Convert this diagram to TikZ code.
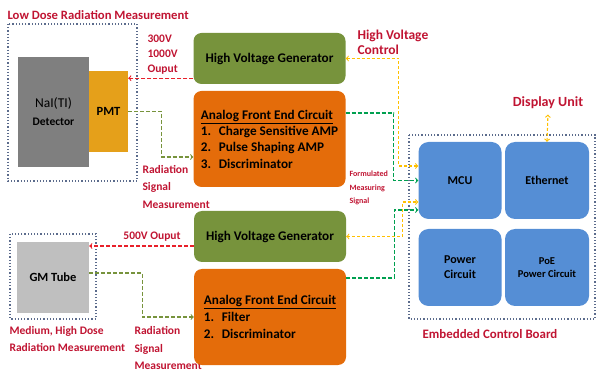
\documentclass[tikz,border=0pt]{standalone}
\usepackage{fontspec}
\setmainfont{Carlito}
\definecolor{redtxt}{RGB}{192,20,50}
\definecolor{hvgreen}{HTML}{77933C}
\definecolor{afeorange}{HTML}{E46C0A}
\definecolor{mcublue}{HTML}{558ED5}
\definecolor{naigrey}{HTML}{7F7F7F}
\definecolor{pmtgold}{HTML}{E5A01A}
\definecolor{gmgrey}{HTML}{BFBFBF}
\definecolor{framecol}{HTML}{5B6B8C}
\definecolor{hvred}{HTML}{E8202A}
\definecolor{sigolive}{HTML}{77933C}
\definecolor{outgreen}{HTML}{00A050}
\definecolor{ctlyellow}{HTML}{FFC000}
\begin{document}
\begin{tikzpicture}[x=1pt, y=-1pt,
    block/.style={rounded corners=8pt, inner sep=0pt, minimum width=152pt, font=\bfseries\fontsize{13.2}{16.3}\selectfont},
    hvgen/.style={block, fill=hvgreen, minimum height=51pt},
    afe/.style={block, fill=afeorange, minimum height=96pt, align=left},
    boardbox/.style={rounded corners=10pt, fill=mcublue, inner sep=0pt, minimum width=83pt, minimum height=77pt, align=center, font=\bfseries\fontsize{12}{15}\selectfont},
    dotframe/.style={draw=framecol, dotted, line width=1.2pt},
    redlabel/.style={text=redtxt, font=\bfseries\fontsize{11.5}{17.5}\selectfont, align=left},
    hvline/.style={draw=hvred, dash pattern=on 4pt off 2pt, line width=1.1pt},
    sigline/.style={draw=sigolive, dash pattern=on 4pt off 2pt, line width=1.1pt},
    outline/.style={draw=outgreen, dash pattern=on 4pt off 2pt, line width=1.1pt},
    ctlline/.style={draw=ctlyellow, dash pattern=on 3pt off 2pt, line width=1.1pt}]
    \useasboundingbox (0,0) rectangle (597,371);

    % Low dose part
    \node[redlabel, anchor=west] (lowtitle) at (4,15) {\fontsize{12.7}{15}\selectfont Low Dose Radiation Measurement};
    \draw[dotframe] (8,24) rectangle (137,181);
    \node[fill=naigrey, minimum width=71pt, minimum height=110pt, align=center, font=\fontsize{13.5}{18}\selectfont] (nai) at (53.5,112)
        {NaI(TI)\\{\bfseries\fontsize{11.5}{12}\selectfont Detector}};
    \node[fill=pmtgold, minimum width=39pt, minimum height=81pt, font=\bfseries\fontsize{12.5}{14}\selectfont] (pmt) at (108.5,111.5) {PMT};
    \node[redlabel, anchor=west, font=\bfseries\fontsize{11.5}{15}\selectfont] (hvoutA) at (144,55) {300V ~\\1000V\\Ouput};
    \node[redlabel, anchor=west] (radA) at (139,187) {Radiation\\Signal\\Measurement};

    \node[hvgen] (hvgA) at (269.5,58.5) {High Voltage Generator};
    \node[afe] (afeA) at (269.5,139) {\underline{Analog Front End Circuit}\\
        \makebox[18pt][l]{1.}Charge Sensitive AMP\\
        \makebox[18pt][l]{2.}Pulse Shaping AMP\\
        \makebox[18pt][l]{3.}Discriminator};

    % Medium, high dose part
    \draw[dotframe] (10,234) rectangle (96,319);
    \node[fill=gmgrey, minimum width=72pt, minimum height=71pt, font=\bfseries\fontsize{12.5}{14}\selectfont] (gm) at (53,277.5) {GM Tube};
    \node[redlabel, anchor=west] (medtitle) at (6,339) {Medium, High Dose\\Radiation Measurement};
    \node[redlabel] (hvoutB) at (152,237) {500V Ouput};
    \node[redlabel, anchor=west] (radB) at (131,348) {Radiation\\Signal\\Measurement};

    \node[hvgen] (hvgB) at (270,236.5) {High Voltage Generator};
    \node[afe, font=\bfseries\fontsize{13.2}{17}\selectfont] (afeB) at (270,317) {\underline{Analog Front End Circuit}\\
        \makebox[18pt][l]{1.}Filter\\
        \makebox[18pt][l]{2.}Discriminator};

    % Embedded control board
    \node[redlabel, anchor=west, font=\bfseries\fontsize{13.5}{15}\selectfont] (hvctl) at (354,42) {High Voltage\\Control};
    \node[redlabel, anchor=west, font=\bfseries\fontsize{8}{13.5}\selectfont] (formsig) at (346,188) {Formulated\\Measuring\\Signal};
    \draw[dotframe] (409,135) rectangle (595,319);
    \node[boardbox] (mcu) at (460,180.5) {MCU};
    \node[boardbox, minimum width=84pt] (eth) at (547,180.5) {Ethernet};
    \node[boardbox] (pwr) at (460,267.5) {Power\\Circuit};
    \node[boardbox, minimum width=84pt, font=\bfseries\fontsize{10.5}{13}\selectfont] (poe) at (547,267.5) {PoE\\Power Circuit};
    \node[redlabel, font=\bfseries\fontsize{14}{15}\selectfont] (disp) at (548,103) {Display Unit};
    \node[redlabel, font=\bfseries\fontsize{12.9}{15}\selectfont] (ecb) at (490,334) {Embedded Control Board};

    % Connectors
    \coordinate (hvA) at ([yshift=6pt]hvgA.south west);
    \draw[hvline, ->] (hvA) -- (hvA -| pmt.east);
    \coordinate (sigA) at ([yshift=-18pt]afeA.west);
    \draw[sigline, ->] (pmt.east) -- ++(33,0) |- (sigA);
    \coordinate (ctlA) at ([yshift=14.5pt]mcu.west);
    \draw[ctlline, <->] (hvgA.east) -- ++(53,0) |- (ctlA);
    \coordinate (outA) at ([yshift=26pt]afeA.east);
    \draw[outline, ->] (outA) -- ++(48,0) |- (mcu.west);

    \coordinate (hvB) at ([yshift=-9.5pt]hvgB.west);
    \draw[hvline, ->] (hvB) -- (hvB -| gm.east);
    \coordinate (sigB) at ([yshift=4.5pt]gm.east);
    \draw[sigline, ->] (sigB) -- ++(53,0) |- (afeB.west);
    \coordinate (ctlB) at ([yshift=-21.5pt]mcu.west);
    \draw[ctlline, <->] (hvgB.east) -- ++(56,0) |- (ctlB);
    \coordinate (outB) at ([yshift=39pt]afeB.east);
    \coordinate (inB) at ([yshift=-29.5pt]mcu.west);
    \draw[outline, ->] (outB) -- ++(48,0) |- (inB);

    \draw[ctlline, <->, shorten >=2pt] (eth.north) -- (disp.south);
\end{tikzpicture}
\end{document}
